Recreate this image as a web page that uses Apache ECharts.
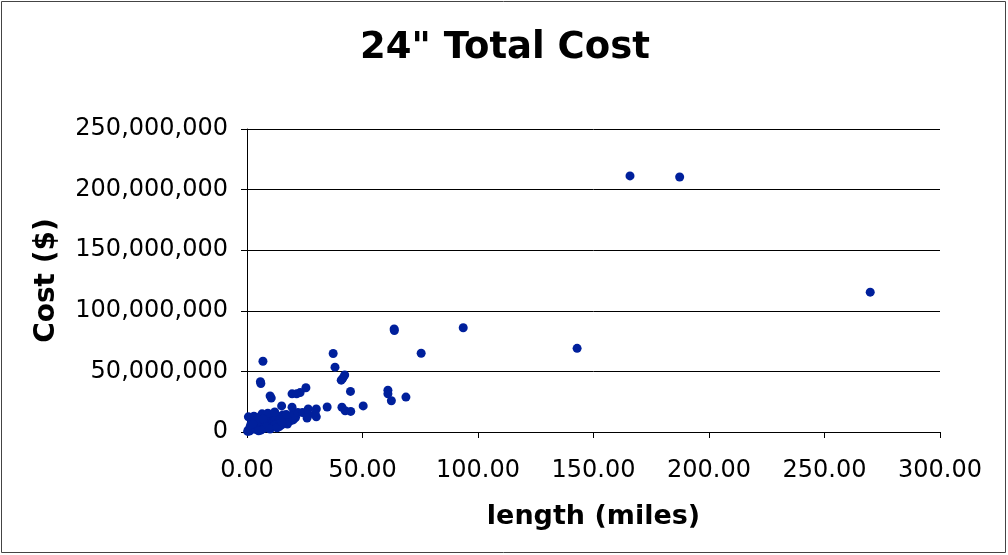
<!DOCTYPE html>
<html>
<head>
<meta charset="utf-8">
<script src="https://cdn.jsdelivr.net/npm/echarts@6/dist/echarts.min.js"></script>
<style>
html,body{margin:0;padding:0;background:#fff;}
#c{width:1008px;height:555px;}
</style>
</head>
<body>
<div id="c"></div>
<script>
// length (miles)
var lengths = [
  0.3,0.5,0.8,1.0,1.2,1.5,0.6,2.0,2.5,3.0,3.5,4.0,4.0,4.5,5.0,5.0,5.5,6.0,6.0,6.5,
  7.0,7.0,7.5,8.0,8.0,8.5,9.0,9.0,9.5,10.0,10.0,10.5,11.0,11.0,11.5,12.0,12.0,12.5,13.0,13.5,
  14.0,14.0,14.5,15.0,15.5,16.0,16.0,17.0,17.5,18.0,18.5,19.0,20.0,20.0,21.0,22.0,3.0,6.5,9.0,12.0,
  2.0,3.0,4.5,7.0,8.5,10.0,6.0,13.0,15.0,17.0,24.0,1.5,2.5,5.0,
  5.8,6.0,6.9,10.0,10.5,15.0,19.5,19.5,21.5,23.0,25.5,26.5,26.5,30.0,29.5,26.0,30.0,34.7,
  37.3,38.1,40.8,41.5,42.3,41.1,42.5,44.9,44.8,50.3,61.0,61.0,62.5,68.8,63.7,63.8,75.4,93.6,
  142.9,165.8,187.3,269.8
];
// total cost ($)
var costs = [
  500000,1200000,2000000,800000,3000000,1500000,12500000,2500000,4000000,3000000,5000000,2000000,6000000,7000000,3500000,12000000,5000000,4000000,8000000,9500000,
  6000000,13000000,3000000,7000000,10000000,12000000,5000000,8500000,11000000,6000000,14000000,9000000,4000000,7500000,12500000,9000000,5500000,11000000,7000000,13000000,
  9000000,4500000,11000000,6000000,14000000,8000000,12000000,10000000,6500000,11500000,9000000,13000000,10000000,15000000,12000000,16000000,13000000,15000000,15500000,16500000,
  8000000,9000000,10500000,10500000,4500000,2500000,1500000,3500000,8500000,14500000,16000000,5500000,6500000,1000000,
  41500000,40000000,58400000,29800000,28000000,21500000,20500000,31500000,31500000,32500000,36500000,19000000,14000000,19000000,15000000,11500000,12500000,20600000,
  64800000,53500000,42800000,44500000,47000000,20400000,17500000,17000000,33500000,21500000,34500000,31500000,25800000,28800000,85000000,83700000,65000000,86000000,
  69000000,211300000,210400000,115400000
];
var xTicks = ['0.00','50.00','100.00','150.00','200.00','250.00','300.00'];
var yTicks = ['0','50,000,000','100,000,000','150,000,000','200,000,000','250,000,000'];

var points = lengths.map(function(v,i){return [v, costs[i]];});
var chart = echarts.init(document.getElementById('c'), null, {renderer:'canvas'});
var font = 'DejaVu Sans, Verdana, sans-serif';
chart.setOption({
  animation:false,
  backgroundColor:'#fff',
  title:{
    text:'24" Total Cost', left:355, top:25,
    textStyle:{fontFamily:font, fontWeight:'bold', fontSize:37, color:'#000'}
  },
  graphic:[{type:'rect', shape:{x:1.5,y:1.5,width:1004,height:551}, style:{fill:'none', stroke:'#444', lineWidth:1}, silent:true}],
  grid:{left:247, right:68, top:129, bottom:123},
  xAxis:{
    type:'value', min:0, max:300, interval:50,
    name:'length (miles)', nameLocation:'middle', nameGap:71,
    nameTextStyle:{fontFamily:font, fontWeight:'bold', fontSize:27, color:'#000'},
    axisLine:{show:true, lineStyle:{color:'#000', width:1}},
    axisTick:{show:true, inside:false, length:6, lineStyle:{color:'#000'}},
    axisLabel:{fontFamily:font, fontSize:24, color:'#000', margin:27,
      formatter:function(v){return xTicks[Math.round(v/50)];}},
    splitLine:{show:false}
  },
  yAxis:{
    type:'value', min:0, max:250000000, interval:50000000,
    name:'Cost ($)', nameLocation:'middle', nameGap:186,
    nameTextStyle:{fontFamily:font, fontWeight:'bold', fontSize:28, color:'#000'},
    axisLine:{show:true, lineStyle:{color:'#000', width:1}},
    axisTick:{show:true, inside:false, length:6, lineStyle:{color:'#000'}},
    axisLabel:{fontFamily:font, fontSize:24, color:'#000', margin:19,
      formatter:function(v){return yTicks[Math.round(v/50000000)];}},
    splitLine:{show:true, lineStyle:{color:'#000', width:1}}
  },
  series:[{
    type:'scatter', data:points, symbol:'circle', symbolSize:9,
    itemStyle:{color:'#00209C', opacity:1}
  }]
});
</script>
</body>
</html>
